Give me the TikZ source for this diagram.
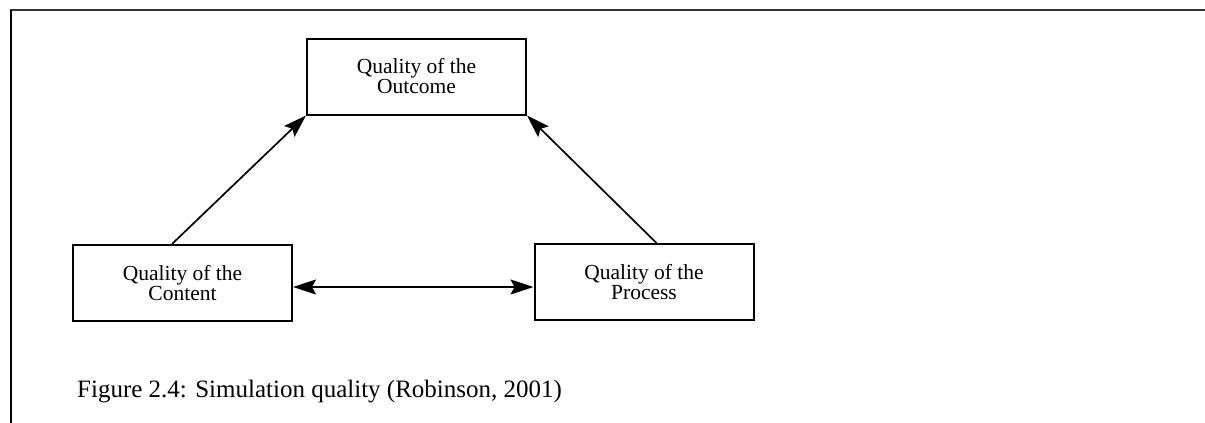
\documentclass[tikz,border=0pt]{standalone}
\usepackage{fontspec}
\setmainfont{Liberation Serif}
\usetikzlibrary{arrows.meta}
\begin{document}
\begin{tikzpicture}[x=1pt,y=-1pt,
  qbox/.style={draw, line width=2pt, minimum width=219pt, minimum height=76pt,
    inner sep=0pt, align=center, font=\fontsize{21.5}{20}\selectfont},
  tip/.style={Stealth[length=23pt,width=15pt,inset=4pt]},
  arr/.style={line width=1.7pt, -{Stealth[length=23pt,width=15pt,inset=4pt]}},
  darr/.style={line width=1.7pt, {Stealth[length=23pt,width=15pt,inset=4pt]}-{Stealth[length=23pt,width=15pt,inset=4pt]}},
  caption/.style={anchor=base west, inner sep=0pt, font=\fontsize{25}{25}\selectfont}]
  \useasboundingbox (0,0) rectangle (1205,423);
  % outer frame: top rule and left rule
  \draw[line width=2pt, black!80] (10,10) -- (1205,10);
  \draw[line width=2pt] (11,10) -- (11,423);
  % the three quality boxes
  \node[qbox] (outcome) at (416.5,76.5) {Quality of the\\Outcome};
  \node[qbox] (content) at (182.5,283) {Quality of the\\Content};
  \node[qbox] (process) at (644,282) {Quality of the\\Process};
  % connectors
  \draw[arr] ([xshift=-10.5pt]content.north) -- (outcome.south west);
  \draw[arr] ([xshift=12.5pt]process.north) -- (outcome.south east);
  \draw[darr] ([yshift=-4pt]content.east) -- ([yshift=-5pt]process.west);
  % caption
  \node[caption] (cap) at (77,397) {Figure 2.4: Simulation quality (Robinson, 2001)};
\end{tikzpicture}
\end{document}
